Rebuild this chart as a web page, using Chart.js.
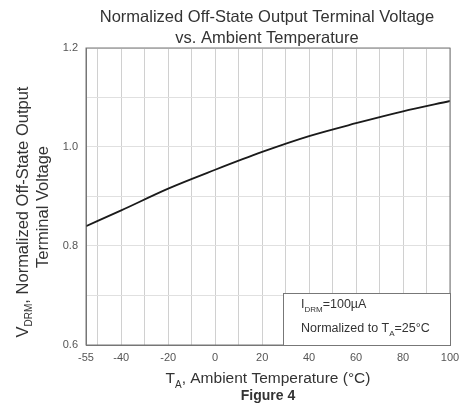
<!DOCTYPE html>
<html>
<head>
<meta charset="utf-8">
<script src="https://cdn.jsdelivr.net/npm/chart.js@4.4.0/dist/chart.umd.min.js"></script>
<style>
    html, body { margin: 0; padding: 0; background: #fff; }
    #wrap { width: 463px; height: 410px; }
</style>
</head>
<body>
<div id="wrap"><canvas id="chart" width="463" height="410"></canvas></div>
<script>
// Values
const temps = [-55, -40, -20, 0, 20, 40, 60, 80, 100];
const voltage = [0.840, 0.872, 0.916, 0.954, 0.990, 1.022, 1.048, 1.072, 1.093];

const xTicks = [-55, -50, -40, -30, -20, -10, 0, 10, 20, 30, 40, 50, 60, 70, 80, 90, 100];
const xLabels = [-55, -40, -20, 0, 20, 40, 60, 80, 100];
const yTicks = [0.6, 0.7, 0.8, 0.9, 1.0, 1.1, 1.2];
const yLabels = [0.6, 0.8, 1.0, 1.2];

const titleLines = ['Normalized Off-State Output Terminal Voltage', 'vs. Ambient Temperature'];

const FONT = '"Liberation Sans", Arial, sans-serif';
const TEXT = '#333';

// draw text made of [text, isSub] pieces
function drawRich(ctx, parts, x, y, size, align) {
    const subSize = Math.round(size * 0.62);
    let total = 0;
    parts.forEach(p => {
        ctx.font = (p[1] ? subSize : size) + 'px ' + FONT;
        total += ctx.measureText(p[0]).width;
    });
    let cx = align === 'center' ? x - total / 2 : x;
    ctx.textAlign = 'left';
    ctx.textBaseline = 'middle';
    parts.forEach(p => {
        ctx.font = (p[1] ? subSize : size) + 'px ' + FONT;
        ctx.fillText(p[0], cx, p[1] ? y + size * 0.38 : y);
        cx += ctx.measureText(p[0]).width;
    });
}

const labelsPlugin = {
    id: 'labels',
    afterDraw(chart) {
        const ctx = chart.ctx;
        const area = chart.chartArea;
        ctx.save();
        ctx.fillStyle = TEXT;

        // title
        ctx.font = '16.5px ' + FONT;
        ctx.textAlign = 'center';
        ctx.textBaseline = 'middle';
        ctx.fillText(titleLines[0], 267, 17);
        ctx.fillText(titleLines[1], 267, 38);

        // x axis title
        drawRich(ctx, [['T', false], ['A', true], [', Ambient Temperature (°C)', false]], 268, 379, 15.5, 'center');
        ctx.font = 'bold 14px ' + FONT;
        ctx.textAlign = 'center';
        ctx.fillText('Figure 4', 268, 396);

        // y axis title
        ctx.save();
        ctx.translate(23, 212);
        ctx.rotate(-Math.PI / 2);
        drawRich(ctx, [['V', false], ['DRM', true], [', Normalized Off-State Output', false]], 0, 0, 16.5, 'center');
        ctx.font = '16.5px ' + FONT;
        ctx.textAlign = 'center';
        ctx.fillText('Terminal Voltage', 5, 20);
        ctx.restore();

        // condition box
        const bx = area.right - 167;
        const by = 293;
        ctx.fillStyle = '#fff';
        ctx.fillRect(bx, by, area.right - bx, area.bottom - by);
        ctx.strokeStyle = '#777';
        ctx.lineWidth = 1;
        ctx.strokeRect(bx + 0.5, by + 0.5, area.right - bx, area.bottom - by);
        ctx.fillStyle = TEXT;
        drawRich(ctx, [['I', false], ['DRM', true], ['=100µA', false]], bx + 18, by + 12, 12.5, 'left');
        drawRich(ctx, [['Normalized to T', false], ['A', true], ['=25°C', false]], bx + 18, by + 36, 12.5, 'left');
        ctx.restore();
    }
};

new Chart(document.getElementById('chart'), {
    type: 'line',
    data: {
        datasets: [{
            data: temps.map((t, i) => ({ x: t, y: voltage[i] })),
            borderColor: '#1a1a1a',
            borderWidth: 1.8,
            pointRadius: 0,
            cubicInterpolationMode: 'monotone',
            fill: false
        }]
    },
    options: {
        responsive: false,
        animation: false,
        layout: { padding: { top: 48, right: 13, left: 0, bottom: 0 } },
        plugins: {
            legend: { display: false },
            tooltip: { enabled: false }
        },
        scales: {
            x: {
                type: 'linear',
                min: -55,
                max: 100,
                afterBuildTicks: s => { s.ticks = xTicks.map(v => ({ value: v })); },
                afterFit: s => { s.height = 65; s.paddingRight = 0; s.paddingLeft = 0; },
                ticks: {
                    autoSkip: false,
                    maxRotation: 0,
                    color: '#555',
                    font: { family: FONT, size: 11 },
                    padding: 6,
                    callback: v => xLabels.includes(v) ? String(v) : ''
                },
                grid: { color: '#d0d0d0', lineWidth: 1, drawTicks: false },
                border: { color: '#777', width: 1 }
            },
            y: {
                min: 0.6,
                max: 1.2,
                afterBuildTicks: s => { s.ticks = yTicks.map(v => ({ value: v })); },
                afterFit: s => { s.width = 86; },
                ticks: {
                    autoSkip: false,
                    color: '#555',
                    font: { family: FONT, size: 11 },
                    padding: 8,
                    callback: v => yLabels.some(l => Math.abs(l - v) < 1e-6) ? v.toFixed(1) : ''
                },
                grid: { color: '#e0e0e0', lineWidth: 1, drawTicks: false },
                border: { color: '#777', width: 1 }
            }
        }
    },
    plugins: [labelsPlugin, {
        id: 'frame',
        beforeDraw(chart) {
            const c = chart.ctx;
            c.save();
            c.fillStyle = '#fff';
            c.fillRect(0, 0, chart.width, chart.height);
            c.restore();
        },
        afterDatasetsDraw(chart) {
            const a = chart.chartArea;
            const c = chart.ctx;
            c.save();
            c.strokeStyle = '#777';
            c.lineWidth = 1;
            c.strokeRect(a.left, a.top, a.right - a.left, a.bottom - a.top);
            c.restore();
        }
    }]
});
</script>
</body>
</html>
